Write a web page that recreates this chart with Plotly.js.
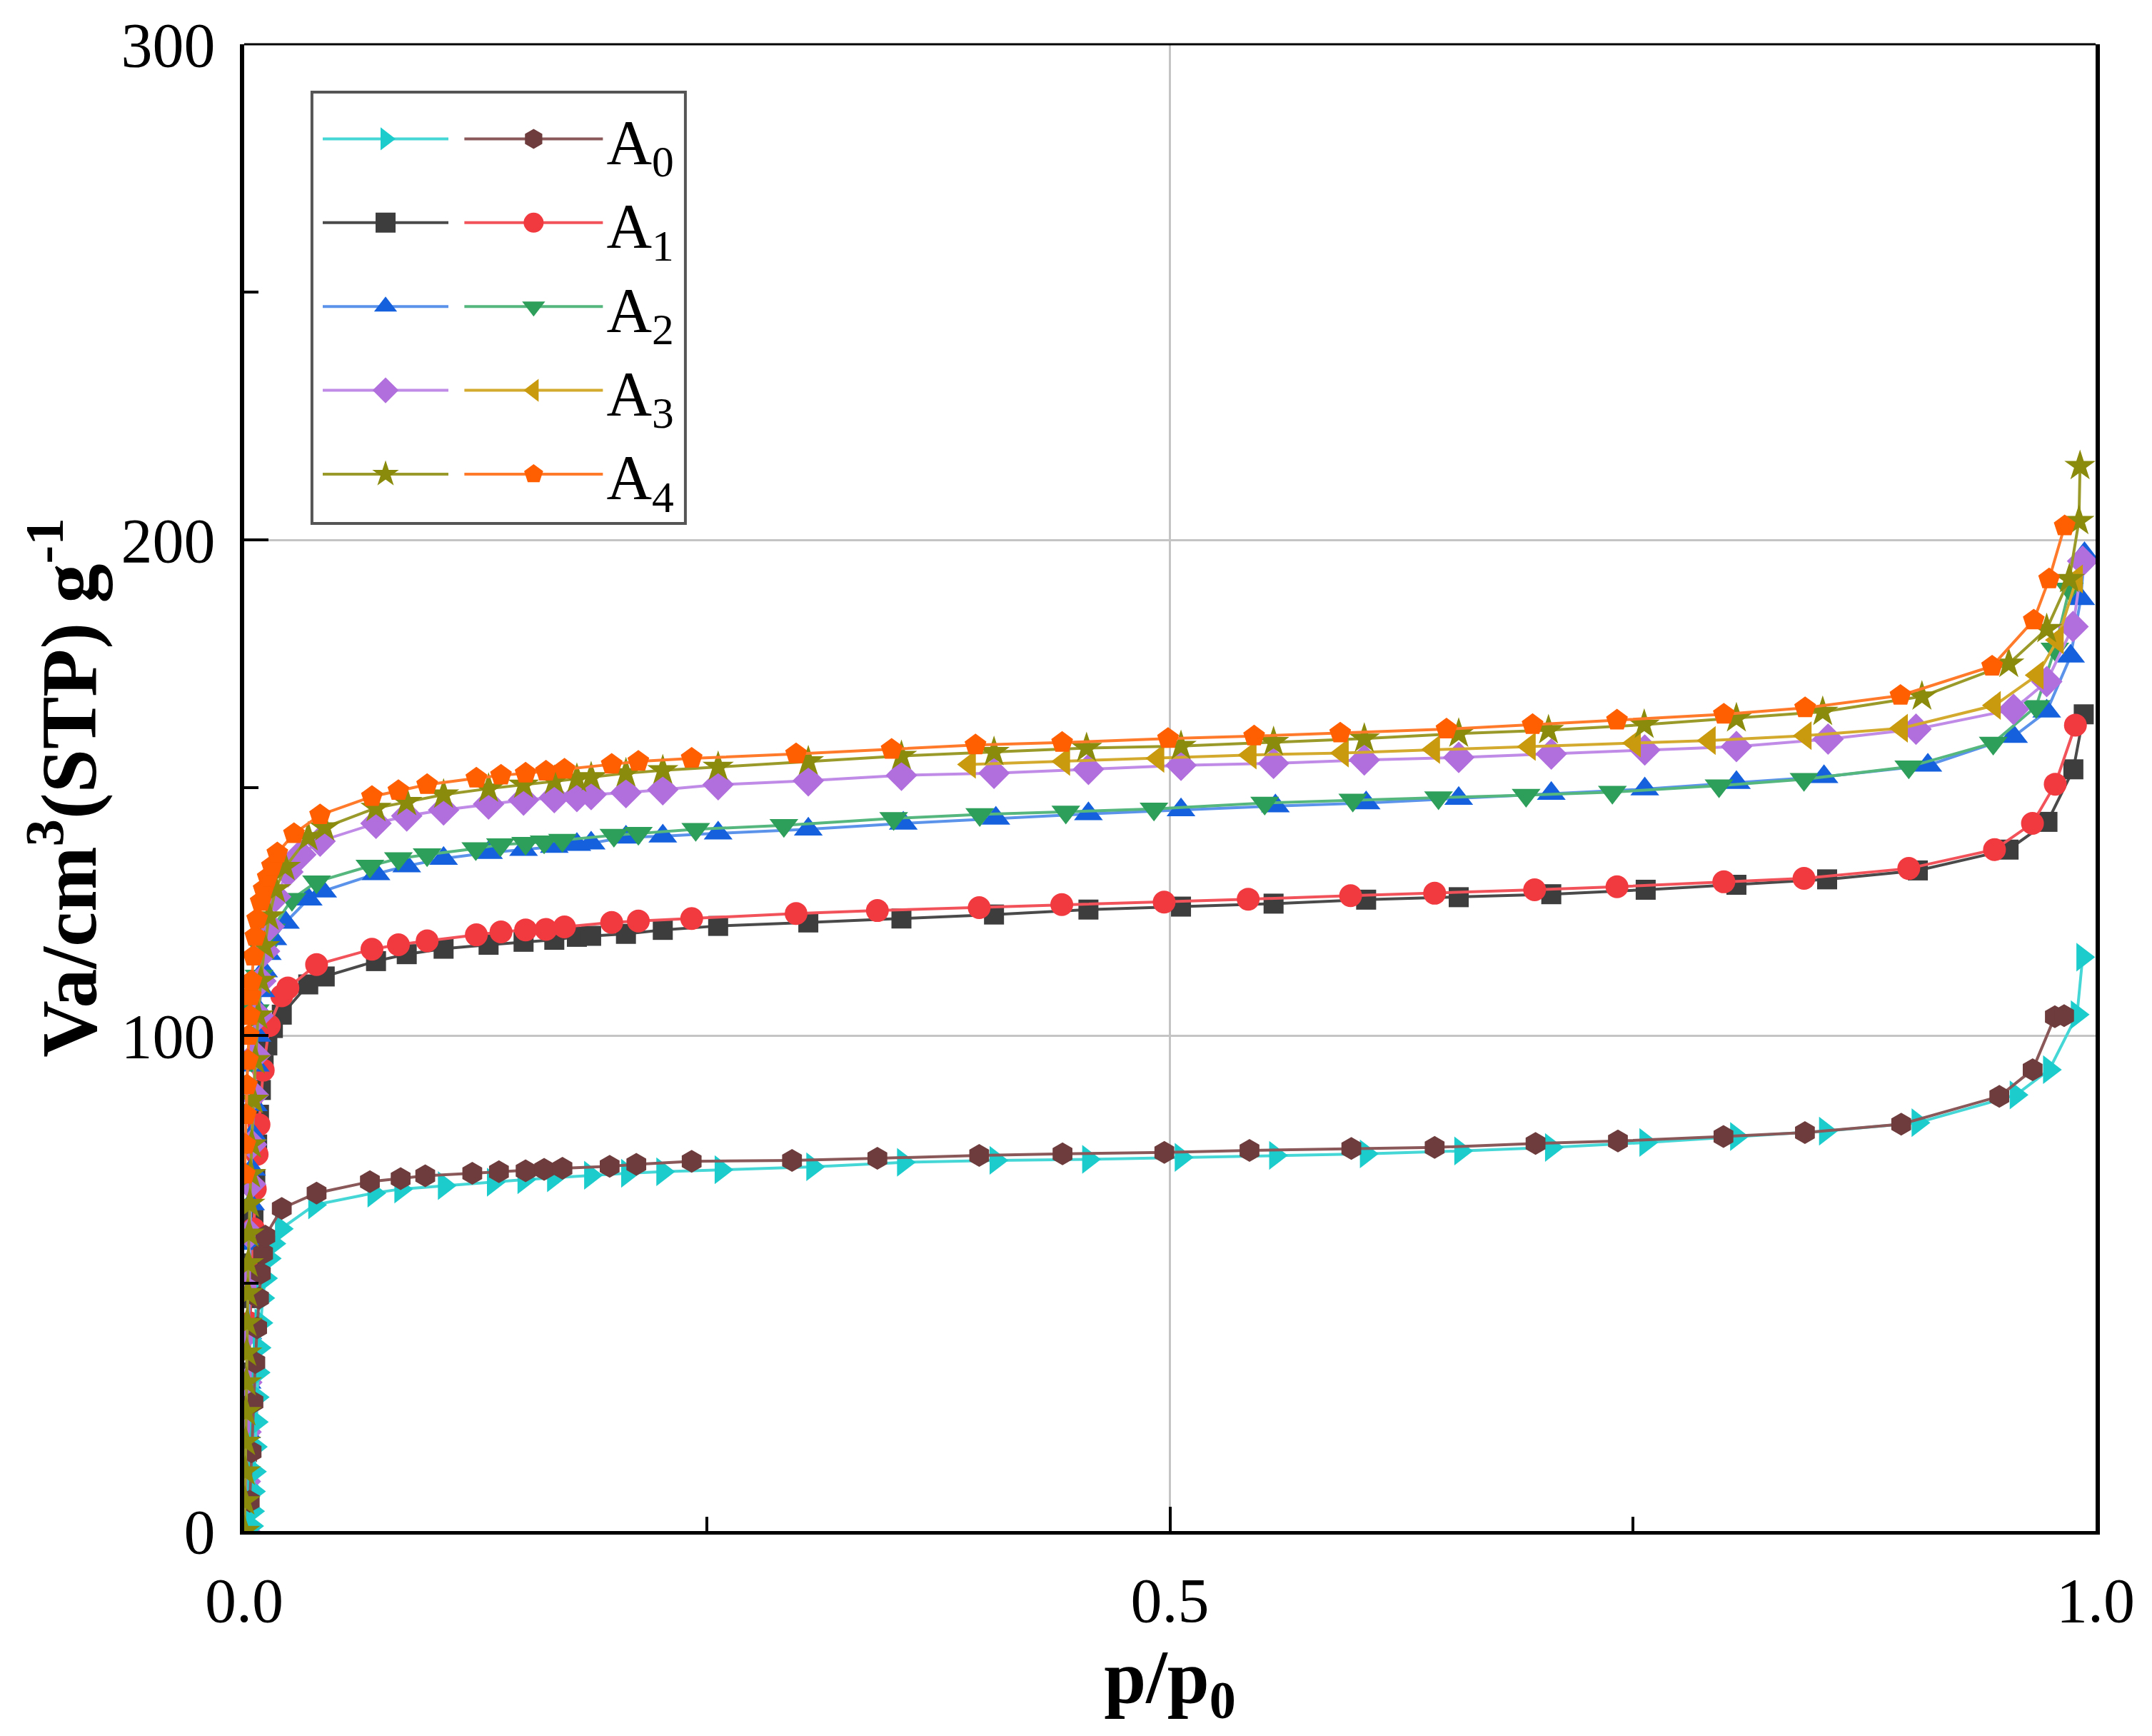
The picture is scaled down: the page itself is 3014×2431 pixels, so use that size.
<!DOCTYPE html>
<html>
<head>
<meta charset="utf-8">
<script src="https://cdn.plot.ly/plotly-3.0.1.min.js"></script>
<style>html,body{margin:0;padding:0;background:#fff;}#chart{width:3014px;height:2431px;}</style>
</head>
<body>
<div id="chart"></div>
<script>
// ---- data (p/p0, volume adsorbed) ----
const A0_1_p = [0.004,0.0045,0.005,0.0055,0.006,0.0065,0.007,0.0075,0.008,0.009,0.010,0.0115,0.0135,0.016,0.020,0.038,0.070,0.0845,0.108,0.1345,0.151,0.167,0.187,0.207,0.226,0.2575,0.307,0.356,0.406,0.456,0.506,0.557,0.606,0.657,0.706,0.757,0.806,0.854,0.904,0.957,0.975,0.990,0.993];
const A0_1_v = [1,4,8,12,17,22,27,32,37,42,47,51,55,58,61,65.8,68.2,69.0,69.7,70.4,70.9,71.3,71.8,72.2,72.5,72.9,73.5,74.4,74.8,75.0,75.4,75.8,76.1,76.7,77.4,78.4,79.6,80.7,82.4,88.0,93.1,104.2,115.8];
const A0_2_p = [0.003,0.004,0.005,0.006,0.007,0.008,0.009,0.0102,0.0114,0.0203,0.0391,0.0679,0.0845,0.0978,0.1232,0.1376,0.152,0.162,0.1719,0.1974,0.2118,0.2417,0.2959,0.342,0.397,0.442,0.497,0.543,0.598,0.643,0.6975,0.742,0.799,0.843,0.895,0.948,0.966,0.978,0.983];
const A0_2_v = [6,16,26,34,41,47,52,56,59.5,65.1,68.2,70.5,71.1,71.7,72.2,72.5,72.7,73.0,73.2,73.6,74.0,74.6,74.8,75.2,75.8,76.1,76.4,76.8,77.2,77.4,78.2,78.7,79.6,80.4,82.1,87.7,93.1,103.8,104.0];

const A1_1_p = [0.0005,0.001,0.0015,0.002,0.0025,0.003,0.0035,0.004,0.005,0.006,0.007,0.008,0.009,0.0105,0.0125,0.0155,0.0203,0.0346,0.0435,0.0712,0.0878,0.1077,0.132,0.1509,0.1675,0.1797,0.1874,0.2062,0.2261,0.256,0.3047,0.355,0.405,0.456,0.506,0.556,0.606,0.656,0.706,0.757,0.806,0.855,0.904,0.953,0.974,0.988,0.9936];
const A1_1_v = [0,8,16,24,32,40,47,54,63,71,78,84,89,94,98,101.5,104.2,110.3,111.9,115.0,116.4,117.5,118.3,118.9,119.3,119.9,120.1,120.5,121.3,122.1,122.8,123.6,124.4,125.4,126.0,126.6,127.4,127.9,128.5,129.4,130.4,131.5,133.3,137.5,143.1,153.7,164.8];
const A1_2_p = [0.001,0.002,0.003,0.004,0.005,0.006,0.007,0.008,0.0103,0.0136,0.0203,0.0236,0.0391,0.069,0.0833,0.0988,0.1254,0.1387,0.152,0.163,0.173,0.1985,0.2129,0.2417,0.2981,0.342,0.397,0.4416,0.4969,0.5423,0.5976,0.643,0.697,0.7415,0.7992,0.8425,0.8991,0.9454,0.9659,0.9782,0.9891];
const A1_2_v = [15,30,42,52,61,69,76,82,93,102,108.0,109.6,114.3,117.4,118.3,119.1,120.3,120.9,121.3,121.4,121.9,122.8,123.1,123.6,124.6,125.2,125.8,126.4,126.9,127.5,128.2,128.7,129.4,130.0,131.0,131.7,133.7,137.5,142.8,150.7,162.6];

const A2_1_p = [0.0003,0.0008,0.0012,0.0016,0.002,0.0025,0.003,0.0035,0.004,0.0045,0.005,0.006,0.007,0.008,0.009,0.0105,0.0125,0.0155,0.0223,0.0346,0.0424,0.0712,0.0878,0.1077,0.132,0.1509,0.1675,0.1797,0.1874,0.2062,0.2261,0.256,0.3047,0.356,0.406,0.456,0.506,0.557,0.606,0.656,0.706,0.7565,0.806,0.8533,0.9094,0.9557,0.9736,0.9865,0.992,0.994];
const A2_1_v = [0,10,20,30,40,50,58,66,73,80,86,94,100,105,109,113,116.5,119.5,122.8,127.5,129.1,132.6,134.2,135.7,136.9,137.5,138.1,138.5,138.8,140.0,140.2,140.8,141.6,142.8,143.8,144.7,145.5,146.3,146.9,147.8,148.8,149.7,151.0,152.2,154.5,160.3,165.4,176.5,188.1,197.2];
const A2_2_p = [0.004,0.006,0.008,0.0105,0.0147,0.0258,0.0391,0.0679,0.0833,0.0988,0.1251,0.1384,0.152,0.162,0.1719,0.1997,0.2129,0.2439,0.2915,0.3508,0.3973,0.4438,0.4914,0.5512,0.5988,0.6451,0.6924,0.739,0.7966,0.8425,0.8991,0.9447,0.9679,0.978,0.9858];
const A2_2_v = [95,105,112,117,121.3,127.5,131.0,134.2,135.7,136.5,137.7,138.5,138.8,139.1,139.4,140.4,140.8,141.6,142.4,143.8,144.6,145.1,145.7,146.9,147.5,148.0,148.5,149.1,150.4,151.7,154.2,159.0,166.4,178.0,190.1];

const A3_1_p = [0.0003,0.0006,0.001,0.0014,0.0018,0.0023,0.0028,0.0034,0.004,0.005,0.006,0.0075,0.009,0.011,0.0135,0.017,0.0236,0.0306,0.041,0.0712,0.0878,0.1077,0.132,0.1509,0.1675,0.1797,0.1874,0.2062,0.2261,0.256,0.3047,0.355,0.405,0.456,0.506,0.556,0.605,0.656,0.706,0.7565,0.806,0.8555,0.903,0.9557,0.9736,0.9878,0.993];
const A3_1_v = [0,10,20,30,40,50,60,70,78,88,96,104,111,117,122,128,133,136.5,139.2,142.8,144.3,145.5,146.7,147.5,148.0,148.2,148.6,149.0,149.6,150.6,151.4,152.5,152.9,153.7,154.5,154.9,155.6,156.1,156.8,157.6,158.3,159.8,161.8,165.8,171.4,182.5,195.7];
const A3_2_p = [0.3918,0.4427,0.4936,0.5434,0.5932,0.6425,0.6942,0.751,0.7914,0.8432,0.8952,0.9454,0.9685,0.9794,0.9897];
const A3_2_v = [154.7,155.3,155.9,156.6,157.0,157.7,158.3,159.0,159.5,160.5,162.0,166.6,172.7,179.8,192.1];

const A4_1_p = [0.0002,0.0004,0.0006,0.0008,0.001,0.0012,0.0014,0.0016,0.0019,0.0022,0.0026,0.003,0.0035,0.004,0.005,0.006,0.0075,0.009,0.011,0.0135,0.017,0.0222,0.0346,0.0435,0.0712,0.0878,0.1077,0.132,0.1509,0.1675,0.1797,0.1874,0.2062,0.2261,0.256,0.3047,0.355,0.405,0.455,0.506,0.556,0.605,0.656,0.7045,0.7562,0.806,0.8526,0.9062,0.9531,0.9736,0.9858,0.991,0.9916];
const A4_1_v = [0,6,12,18,24,30,36,42,48,54,60,66,72,78,87,95,104,111,118,124,129.5,134,140.0,142.0,145.9,147.1,148.6,149.8,150.6,151.4,151.8,152.1,152.9,153.5,154.2,155.3,156.4,157.2,158.0,158.4,159.2,159.9,160.9,161.6,162.7,164.0,165.3,168.4,175.0,182.0,192.1,203.8,214.9];
const A4_2_p = [0.0003,0.0006,0.001,0.0015,0.002,0.0025,0.003,0.0035,0.004,0.005,0.006,0.007,0.0089,0.0105,0.0127,0.015,0.0179,0.0269,0.041,0.069,0.0833,0.0988,0.1254,0.1387,0.152,0.163,0.173,0.1985,0.2129,0.2417,0.2981,0.3497,0.395,0.4418,0.499,0.5455,0.592,0.6494,0.6959,0.7415,0.7992,0.8431,0.8946,0.9441,0.9666,0.9749,0.9833];
const A4_2_v = [72,78,84,90,95,100,104,108,111,116,120,123.5,127,129.5,131.9,134.2,136.8,140.7,144.5,148.2,149.4,150.6,151.9,152.5,152.9,153.3,153.7,154.7,155.3,155.9,156.8,157.7,158.6,159.1,159.9,160.4,161.0,161.8,162.7,163.6,164.8,166.1,168.6,174.5,183.8,192.1,202.8];

const sampleNames = ['A<sub>0</sub>','A<sub>1</sub>','A<sub>2</sub>','A<sub>3</sub>','A<sub>4</sub>'];
const xTickVals = [0, 0.5, 1.0];
const xTickText = ['0.0', '0.5', '1.0'];
const yTickVals = [0, 100, 200, 300];

// ---- styles ----
const SERIF = 'Liberation Serif, Times New Roman, serif';
function tr(x, y, sym, mcol, lcol, legend, name, rank, size) {
  return {
    x: x, y: y, type: 'scatter', mode: 'lines+markers',
    name: name, legend: legend, legendrank: rank,
    line: {color: lcol, width: 4},
    marker: {symbol: sym, color: mcol, size: size, line: {width: 0}},
    hoverinfo: 'skip'
  };
}
// drawing order follows the original (black ... orange on top)
const data = [
  tr(A1_1_p, A1_1_v, 'square',        '#3d3d3d', '#4a4a4a', 'legend',  ' ', 2, 28),
  tr(A1_2_p, A1_2_v, 'circle',        '#f03a40', '#f2535a', 'legend2', sampleNames[1], 2, 32),
  tr(A2_1_p, A2_1_v, 'triangle-up',   '#1560dc', '#5b93ea', 'legend',  ' ', 3, 35),
  tr(A2_2_p, A2_2_v, 'triangle-down', '#2e9e5b', '#55b67e', 'legend2', sampleNames[2], 3, 35),
  tr(A3_1_p, A3_1_v, 'diamond',       '#b06fdc', '#bf8be6', 'legend',  ' ', 4, 34),
  tr(A3_2_p, A3_2_v, 'triangle-left', '#c99a0e', '#d3aa2e', 'legend2', sampleNames[3], 4, 35),
  tr(A0_1_p, A0_1_v, 'triangle-right','#1ccccc', '#45d6d6', 'legend',  ' ', 1, 35),
  tr(A0_2_p, A0_2_v, 'hexagon',       '#6e3c3c', '#8a5858', 'legend2', sampleNames[0], 1, 32),
  tr(A4_1_p, A4_1_v, 'star',          '#8a8a0c', '#9a9a2a', 'legend',  ' ', 5, 33),
  tr(A4_2_p, A4_2_v, 'pentagon',      '#ff5f00', '#ff7a2a', 'legend2', sampleNames[4], 5, 32)
];

const tickFont = {family: SERIF, size: 88, color: '#000'};
const legendFont = {family: SERIF, size: 88, color: '#000'};
const layout = {
  width: 3014, height: 2431,
  margin: {l: 342, r: 79, t: 62, b: 287},
  paper_bgcolor: '#fff', plot_bgcolor: '#fff',
  showlegend: true,
  xaxis: {
    range: [0, 1], tickvals: xTickVals, ticktext: xTickText,
    ticks: 'inside', ticklen: 34, tickwidth: 4, tickcolor: '#000',
    minor: {ticks: 'inside', ticklen: 20, tickwidth: 4, tickcolor: '#000', dtick: 0.25, tick0: 0, showgrid: false},
    showline: true, linecolor: '#000', linewidth: 5, mirror: false,
    showgrid: true, gridcolor: '#c4c4c4', gridwidth: 3,
    zeroline: false, tickfont: tickFont, ticklabelstandoff: 16,
    title: {text: '<b>p/p<sub>0</sub></b>', font: {family: SERIF, size: 106, color: '#000'}, standoff: 8}
  },
  yaxis: {
    range: [0, 300], tickvals: yTickVals,
    ticks: 'inside', ticklen: 34, tickwidth: 4, tickcolor: '#000',
    minor: {ticks: 'inside', ticklen: 20, tickwidth: 4, tickcolor: '#000', dtick: 50, tick0: 0, showgrid: false},
    showline: true, linecolor: '#000', linewidth: 6, mirror: true,
    showgrid: true, gridcolor: '#c4c4c4', gridwidth: 3,
    zeroline: false, tickfont: tickFont, ticklabelstandoff: 17,
    title: {text: '<b>Va/cm<sup>3</sup>(STP) g<sup>-1</sup></b>', font: {family: SERIF, size: 110, color: '#000'}, standoff: 0}
  },
  legend: {
    x: 0.0405, y: 0.967, xanchor: 'left', yanchor: 'top',
    bgcolor: 'rgba(0,0,0,0)', borderwidth: 0, itemwidth: 176,
    font: legendFont, traceorder: 'normal', itemclick: false
  },
  legend2: {
    x: 0.117, y: 0.967, xanchor: 'left', yanchor: 'top',
    bgcolor: 'rgba(0,0,0,0)', borderwidth: 0, itemwidth: 194,
    font: legendFont, traceorder: 'normal', itemclick: false
  },
  shapes: [
    {type: 'rect', xref: 'paper', yref: 'paper', x0: 0.0366, x1: 0.2383, y0: 0.6777, y1: 0.9678,
     line: {color: '#555', width: 4}, fillcolor: 'rgba(0,0,0,0)'},
    {type: 'line', xref: 'paper', yref: 'paper', x0: 0, x1: 1, y0: 1, y1: 1,
     line: {color: '#000', width: 3}}
  ]
};

Plotly.newPlot('chart', data, layout, {staticPlot: true, displayModeBar: false}).then(function () {
  // enlarge legend symbols (Plotly caps legend marker size at 16 px)
  document.querySelectorAll('.legendpoints path.scatterpts').forEach(function (p) {
    var t = p.getAttribute('transform') || '';
    p.setAttribute('transform', t + ' scale(1.75)');
  });
});
</script>
</body>
</html>
